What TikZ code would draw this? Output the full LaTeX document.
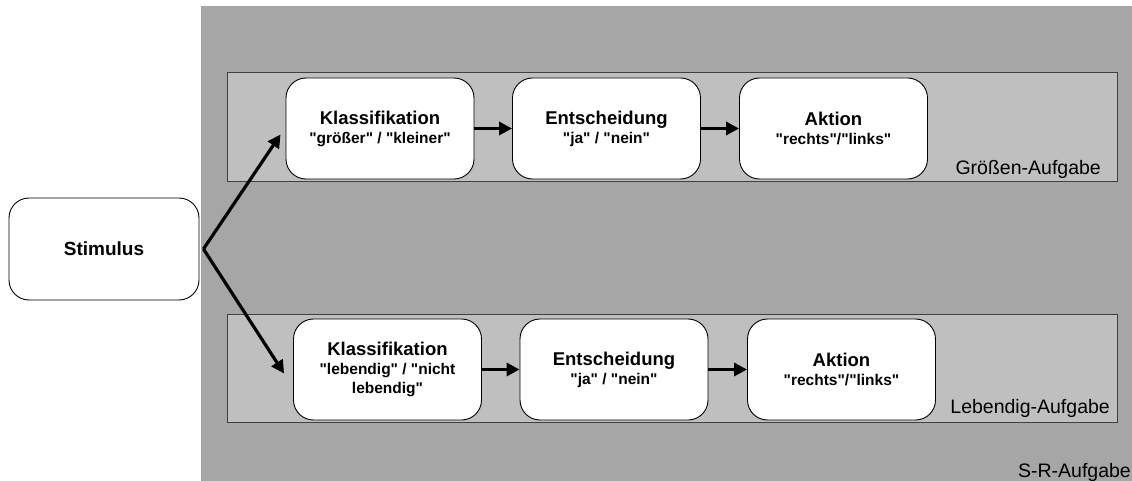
\documentclass[tikz,border=0pt]{standalone}
\usepackage{fontspec}
\setmainfont{Liberation Sans}[Ligatures=TeXOff]
\usetikzlibrary{arrows.meta,calc}
\definecolor{outerfill}{HTML}{A6A6A6}
\definecolor{lanefill}{HTML}{BFBFBF}
\newcommand\boxtxt[2]{{\fontsize{18.5}{20}\selectfont #1}\\#2}
\begin{document}
\begin{tikzpicture}[x=1pt,y=-1pt,
  box/.style={draw=black, fill=white, rounded corners=20pt, line width=0.9pt,
    minimum width=188pt, minimum height=101pt, align=center, inner sep=0pt,
    font=\bfseries\fontsize{15.5}{19}\selectfont},
  arr/.style={-{Triangle[length=13pt,width=13pt]}, line width=3.2pt},
  lanebox/.style={draw=black!75, fill=lanefill, line width=1pt},
  lbl/.style={font=\fontsize{19.5}{22}\selectfont, inner sep=0pt, anchor=base east},
]
\useasboundingbox (0,0) rectangle (1132,481);
\fill[outerfill] (201,6) rectangle (1132,481);
\draw[lanebox] (227,73) rectangle (1117,182);
\draw[lanebox] (227,314) rectangle (1117,422);

\node[box, minimum width=190pt, minimum height=102pt, font=\bfseries\fontsize{19}{22}\selectfont] (s) at (104,249) {Stimulus};

\node[box] (k1) at (380,128.5) {\boxtxt{Klassifikation}{"größer" / "kleiner"}};
\node[box] (e1) at (606.5,128.5) {\boxtxt{Entscheidung}{"ja" / "nein"}};
\node[box] (a1) at (833.5,128.5) {\boxtxt{Aktion}{"rechts"/"links"}};

\node[box] (k2) at (387.5,369.5) {\boxtxt{Klassifikation}{"lebendig" / "nicht\\lebendig"}};
\node[box] (e2) at (614,369.5) {\boxtxt{Entscheidung}{"ja" / "nein"}};
\node[box] (a2) at (841.5,369.5) {\boxtxt{Aktion}{"rechts"/"links"}};

\node[lbl] (l1) at (1101,175) {Größen-Aufgabe};
\node[lbl] (l2) at (1110,413) {Lebendig-Aufgabe};
\node[lbl] (l3) at (1131,477) {S-R-Aufgabe};

\coordinate (sout) at ($(s.east)+(4,0)$);
\coordinate (t1) at ($(k1.west)+(-5,6)$);
\coordinate (t2) at ($(k2.west)+(-9,4)$);
\draw[arr] (sout) -- (t1);
\draw[arr] (sout) -- (t2);
\draw[arr] (k1) -- (e1);
\draw[arr] (e1) -- (a1);
\draw[arr] (k2) -- (e2);
\draw[arr] (e2) -- (a2);
\end{tikzpicture}
\end{document}
